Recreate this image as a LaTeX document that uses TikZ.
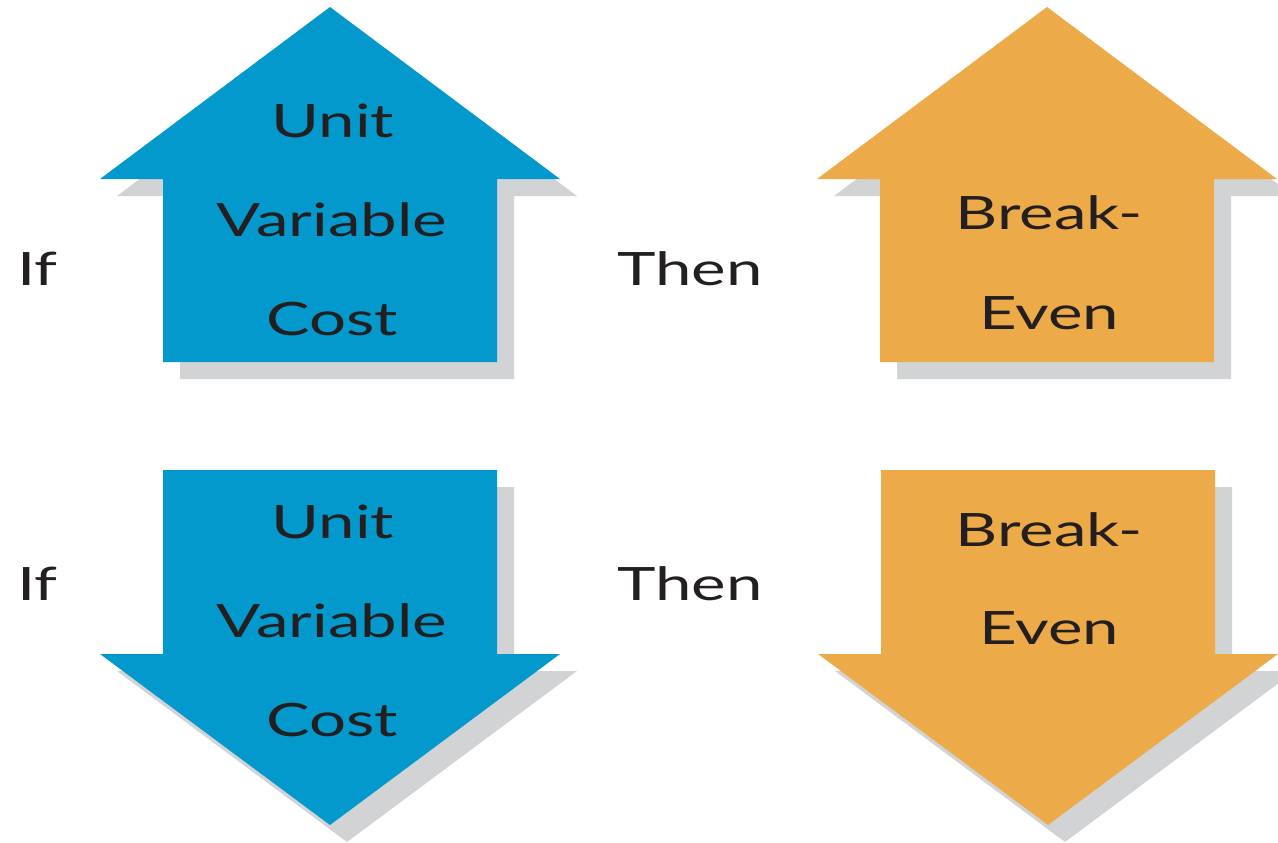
\documentclass[tikz,border=0pt]{standalone}
\usepackage{fontspec}
\setmainfont{Lato}
\usepackage{graphicx}

\definecolor{blueArrow}{HTML}{0399CC}
\definecolor{orangeArrow}{HTML}{EDAA48}
\definecolor{shadowGray}{HTML}{D1D3D4}
\definecolor{inkText}{HTML}{231F20}

% wide lettering
\newcommand\widetext[1]{\scalebox{1.42}[1]{#1}}

% up arrow: #1 centre x, #2 fill colour
\newcommand\arrowUp[2]{%
  \foreach \sx/\col in {17/shadowGray, 0/#2}{%
    \fill[\col, shift={(\sx,\sx)}]
      (#1,7) -- ({#1+230},179) -- ({#1+167},179) -- ({#1+167},362)
      -- ({#1-167},362) -- ({#1-167},179) -- ({#1-230},179) -- cycle;
  }%
}
% down arrow: #1 centre x, #2 fill colour
\newcommand\arrowDown[2]{%
  \foreach \sx/\col in {17/shadowGray, 0/#2}{%
    \fill[\col, shift={(\sx,\sx)}]
      ({#1-167},470) -- ({#1+167},470) -- ({#1+167},654) -- ({#1+230},654)
      -- (#1,825) -- ({#1-230},654) -- ({#1-167},654) -- cycle;
  }%
}

\begin{document}
\begin{tikzpicture}[x=1pt,y=-1pt,
  lbl/.style={inner sep=0pt, text=inkText, font=\fontsize{46}{50}\selectfont},
  mid/.style={lbl, anchor=base},
  side/.style={lbl, anchor=base west}]
  \useasboundingbox (0,0) rectangle (1278,843);
  \clip (0,0) rectangle (1278,843);

  \arrowUp{330}{blueArrow}
  \arrowUp{1047}{orangeArrow}
  \arrowDown{330}{blueArrow}
  \arrowDown{1048}{orangeArrow}

  % upper row
  \node[side] (if1) at (17,285) {\widetext{If}};
  \node[side] (then1) at (617,285) {\widetext{Then}};
  \node[mid] (u1) at (333,137) {\widetext{Unit}};
  \node[mid] (v1) at (332,236) {\widetext{Variable}};
  \node[mid] (c1) at (332,335) {\widetext{Cost}};
  \node[mid] (b1) at (1049,229) {\widetext{Break-}};
  \node[mid] (e1) at (1049,329) {\widetext{Even}};

  % lower row
  \node[side] (if2) at (17,600) {\widetext{If}};
  \node[side] (then2) at (617,600) {\widetext{Then}};
  \node[mid] (u2) at (333,538) {\widetext{Unit}};
  \node[mid] (v2) at (332,637) {\widetext{Variable}};
  \node[mid] (c2) at (332,736) {\widetext{Cost}};
  \node[mid] (b2) at (1049,546) {\widetext{Break-}};
  \node[mid] (e2) at (1049,644) {\widetext{Even}};
\end{tikzpicture}
\end{document}
